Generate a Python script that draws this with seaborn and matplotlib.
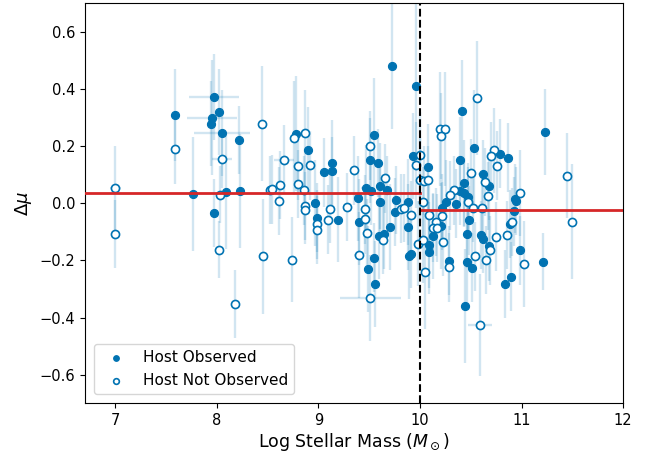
import numpy as np
import pandas as pd
import matplotlib
matplotlib.use("Agg")
import matplotlib.pyplot as plt
import seaborn as sns

# Host observed (filled)
obs_mass = [7.59, 7.97, 8.02, 7.95, 7.94, 8.05, 8.22, 7.76, 7.97, 8.09, 8.23,
            9.72, 9.96, 8.78, 9.55, 8.90, 9.13, 9.05, 9.13, 9.51, 9.59, 9.93,
            9.47, 9.52, 9.61, 9.67, 9.39, 8.97, 9.61, 9.76, 9.88, 9.75, 8.99,
            9.19, 9.40, 9.70, 9.88, 9.60, 9.65, 9.89, 9.91, 9.55, 9.49, 9.56,
            10.41, 11.23, 10.53, 10.79, 10.87, 10.39, 10.08, 10.62, 10.43, 10.68,
            10.39, 10.43, 10.47, 10.26, 10.35, 10.22, 10.94, 10.95, 10.93, 10.89,
            10.48, 10.21, 10.46, 10.60, 10.62, 10.13, 10.09, 10.09, 10.68, 10.99,
            10.29, 10.51, 11.21, 10.46, 10.84, 10.90, 10.44]
obs_dmu = [0.309, 0.372, 0.320, 0.300, 0.279, 0.245, 0.222, 0.033, -0.034, 0.040, 0.042,
           0.480, 0.412, 0.244, 0.240, 0.188, 0.141, 0.108, 0.113, 0.150, 0.141, 0.165,
           0.054, 0.044, 0.060, 0.045, 0.017, 0.002, 0.005, 0.011, 0.005, -0.031, -0.050,
           -0.057, -0.065, -0.083, -0.083, -0.114, -0.109, -0.185, -0.177, -0.190, -0.229, -0.283,
           0.322, 0.250, 0.195, 0.174, 0.160, 0.153, 0.128, 0.101, 0.072, 0.061,
           0.043, 0.037, 0.021, 0.003, -0.001, -0.017, 0.016, 0.008, -0.028, -0.072,
           -0.060, -0.079, -0.107, -0.111, -0.124, -0.116, -0.146, -0.169, -0.151, -0.165,
           -0.201, -0.225, -0.204, -0.206, -0.283, -0.257, -0.359]
obs_err = [0.16, 0.15, 0.15, 0.20, 0.15, 0.15, 0.12, 0.20, 0.12, 0.20, 0.20,
           0.22, 0.30, 0.20, 0.20, 0.15, 0.15, 0.12, 0.12, 0.15, 0.12, 0.15,
           0.15, 0.12, 0.15, 0.12, 0.15, 0.15, 0.12, 0.12, 0.15, 0.12, 0.12,
           0.15, 0.15, 0.15, 0.15, 0.15, 0.12, 0.15, 0.12, 0.12, 0.15, 0.15,
           0.18, 0.15, 0.20, 0.12, 0.12, 0.15, 0.15, 0.12, 0.15, 0.12,
           0.12, 0.12, 0.12, 0.15, 0.12, 0.12, 0.12, 0.12, 0.12, 0.12,
           0.12, 0.15, 0.12, 0.12, 0.12, 0.15, 0.15, 0.15, 0.12, 0.12,
           0.12, 0.12, 0.10, 0.15, 0.12, 0.12, 0.20]
obs_xerr = [0.0, 0.25, 0.0, 0.25, 0.0, 0.28, 0.0, 0.0, 0.0, 0.0, 0.0,
            0.0, 0.0, 0.0, 0.0, 0.0, 0.0, 0.0, 0.0, 0.0, 0.0, 0.0,
            0.05, 0.0, 0.0, 0.0, 0.0, 0.0, 0.0, 0.0, 0.0, 0.0, 0.0,
            0.0, 0.0, 0.0, 0.0, 0.0, 0.0, 0.0, 0.0, 0.0, 0.0, 0.0,
            0.0, 0.0, 0.0, 0.0, 0.05, 0.0, 0.0, 0.05, 0.0, 0.0,
            0.0, 0.0, 0.0, 0.0, 0.0, 0.0, 0.0, 0.0, 0.0, 0.0,
            0.0, 0.0, 0.0, 0.0, 0.0, 0.0, 0.0, 0.0, 0.0, 0.0,
            0.0, 0.0, 0.0, 0.0, 0.0, 0.0, 0.0]

# Host not observed (open)
nobs_mass = [7.00, 7.00, 7.59, 8.05, 8.03, 8.44, 8.52, 8.02, 8.45, 8.18,
             8.76, 8.87, 9.51, 8.66, 8.80, 8.92, 9.35, 9.66, 10.00, 9.96,
             10.00, 8.54, 8.62, 8.80, 8.86, 8.61, 8.87, 8.87, 9.11, 9.28,
             9.81, 9.84, 9.91, 9.46, 8.99, 8.99, 9.09, 9.46, 9.48, 9.64,
             9.98, 8.74, 9.40, 9.51, 10.05, 10.56, 10.20, 10.25, 10.21, 10.73,
             10.70, 10.76, 10.50, 10.04, 10.08, 10.64, 10.67, 10.33, 10.47, 10.30,
             10.03, 10.52, 10.61, 10.99, 10.91, 10.09, 10.22, 10.16, 10.13, 10.17,
             10.75, 10.86, 10.03, 10.23, 10.69, 10.54, 10.65, 10.29, 11.02, 11.45,
             11.50, 10.59]
nobs_dmu = [0.052, -0.108, 0.189, 0.154, 0.030, 0.279, 0.046, -0.162, -0.186, -0.353,
            0.229, 0.246, 0.202, 0.153, 0.130, 0.133, 0.115, 0.087, 0.170, 0.135,
            0.080, 0.049, 0.064, 0.068, 0.045, 0.008, -0.009, -0.024, -0.019, -0.013,
            -0.019, -0.016, -0.042, -0.021, -0.074, -0.093, -0.057, -0.056, -0.105, -0.127,
            -0.141, -0.197, -0.182, -0.332, -0.241, 0.369, 0.259, 0.259, 0.236, 0.185,
            0.164, 0.132, 0.106, 0.079, 0.080, 0.075, 0.025, 0.045, 0.006, 0.028,
            0.006, -0.016, -0.016, 0.037, -0.065, -0.041, -0.044, -0.066, -0.085, -0.087,
            -0.117, -0.111, -0.130, -0.134, -0.165, -0.186, -0.199, -0.224, -0.212, 0.097,
            -0.064, -0.426]
nobs_err = [0.15, 0.12, 0.12, 0.10, 0.10, 0.20, 0.12, 0.10, 0.20, 0.12,
            0.20, 0.15, 0.12, 0.12, 0.12, 0.12, 0.12, 0.12, 0.15, 0.15,
            0.15, 0.12, 0.12, 0.12, 0.12, 0.12, 0.12, 0.12, 0.12, 0.12,
            0.12, 0.12, 0.12, 0.12, 0.12, 0.12, 0.12, 0.12, 0.12, 0.12,
            0.15, 0.15, 0.15, 0.15, 0.20, 0.20, 0.20, 0.20, 0.15, 0.15,
            0.12, 0.12, 0.12, 0.12, 0.12, 0.12, 0.12, 0.12, 0.12, 0.12,
            0.12, 0.12, 0.12, 0.15, 0.12, 0.12, 0.12, 0.12, 0.12, 0.12,
            0.12, 0.12, 0.15, 0.12, 0.12, 0.12, 0.12, 0.12, 0.15, 0.15,
            0.20, 0.18]
nobs_xerr = [0.05, 0.0, 0.0, 0.10, 0.0, 0.0, 0.0, 0.0, 0.0, 0.0,
             0.0, 0.05, 0.0, 0.10, 0.0, 0.0, 0.0, 0.0, 0.0, 0.0,
             0.0, 0.0, 0.0, 0.0, 0.0, 0.0, 0.0, 0.0, 0.0, 0.0,
             0.0, 0.0, 0.0, 0.0, 0.0, 0.0, 0.0, 0.0, 0.0, 0.0,
             0.0, 0.0, 0.05, 0.30, 0.0, 0.0, 0.0, 0.0, 0.0, 0.0,
             0.0, 0.0, 0.0, 0.0, 0.0, 0.0, 0.0, 0.0, 0.0, 0.0,
             0.0, 0.0, 0.0, 0.0, 0.0, 0.0, 0.0, 0.0, 0.0, 0.0,
             0.0, 0.0, 0.0, 0.0, 0.0, 0.0, 0.0, 0.0, 0.0, 0.0,
             0.0, 0.12]

# step fit
mass_split = 10.0
low_mean = 0.035
high_mean = -0.023
x_limits = [6.7, 12.0]
y_limits = [-0.7, 0.7]

blue = "#0173B2"
red = "#d62728"

fig = plt.figure(figsize=(6.5, 4.54), dpi=100)
ax = fig.add_axes([0.1308, 0.1117, 0.8277, 0.881])

ecol = (0.0, 0.45, 0.70, 0.18)
ax.errorbar(obs_mass, obs_dmu, yerr=obs_err, xerr=obs_xerr, fmt="none",
            ecolor=ecol, elinewidth=1.7, zorder=1)
ax.errorbar(nobs_mass, nobs_dmu, yerr=nobs_err, xerr=nobs_xerr, fmt="none",
            ecolor=ecol, elinewidth=1.7, zorder=1)

df_obs = pd.DataFrame({"mass": obs_mass, "dmu": obs_dmu})
df_nobs = pd.DataFrame({"mass": nobs_mass, "dmu": nobs_dmu})
sns.scatterplot(data=df_obs, x="mass", y="dmu", ax=ax, color=blue, s=34,
                edgecolor=blue, linewidth=0.8, label="Host Observed", zorder=3)
sns.scatterplot(data=df_nobs, x="mass", y="dmu", ax=ax, facecolor="white", s=34,
                edgecolor=blue, linewidth=1.2, label="Host Not Observed", zorder=3)

ax.plot([x_limits[0], mass_split], [low_mean, low_mean], color=red, lw=2, zorder=4)
ax.plot([mass_split, x_limits[1]], [high_mean, high_mean], color=red, lw=2, zorder=4)
ax.axvline(mass_split, color="black", ls="--", lw=1.5, zorder=5)

ax.set_xlim(x_limits)
ax.set_ylim(y_limits)
ax.set_xticks([7, 8, 9, 10, 11, 12])
ax.set_yticks([-0.6, -0.4, -0.2, 0.0, 0.2, 0.4, 0.6])
ax.set_yticklabels(["−0.6", "−0.4", "−0.2", "0.0", "0.2", "0.4", "0.6"])
ax.tick_params(labelsize=10.5)
ax.set_xlabel(r"Log Stellar Mass ($M_\odot$)", fontsize=12.5, labelpad=2)
ax.set_ylabel(r"$\Delta\mu$", fontsize=13)
leg = ax.legend(loc="lower left", fontsize=11, markerscale=0.7, borderaxespad=0.6)

fig.savefig("out.png", dpi=100)
